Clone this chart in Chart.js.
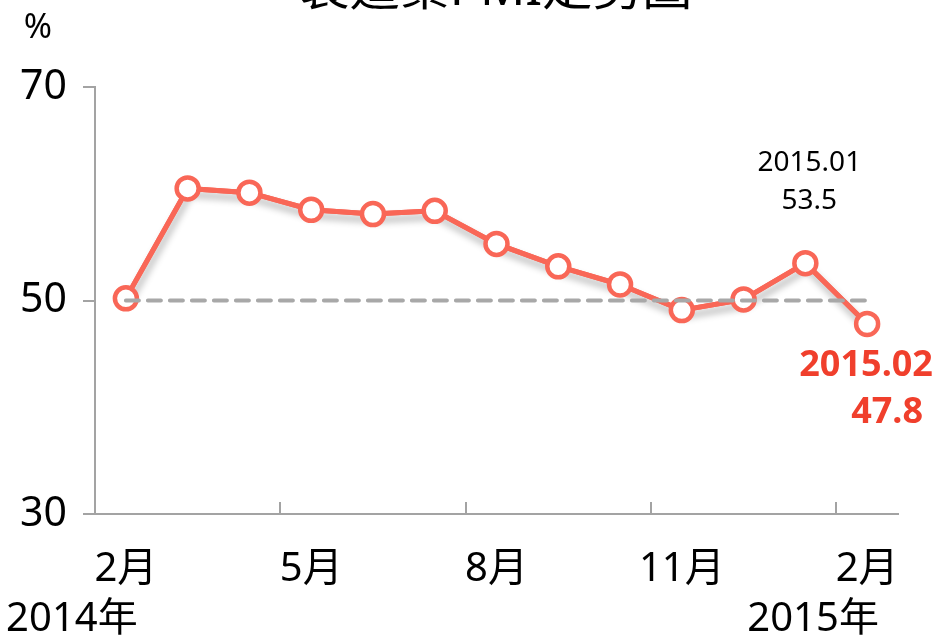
<!DOCTYPE html>
<html>
<head>
<meta charset="utf-8">
<script src="https://cdn.jsdelivr.net/npm/chart.js@4"></script>
<style>
    html, body { margin: 0; padding: 0; background: #ffffff; }
    #wrap { width: 935px; height: 638px; }
</style>
</head>
<body>
<div id="wrap"><canvas id="pmiChart" width="935" height="638"></canvas></div>
<script>
const categories = ['2014.02', '2014.03', '2014.04', '2014.05', '2014.06', '2014.07', '2014.08',
    '2014.09', '2014.10', '2014.11', '2014.12', '2015.01', '2015.02'];
const pmiValues = [50.2, 60.5, 60.1, 58.5, 58.1, 58.4, 55.3, 53.2, 51.5, 49.1, 50.1, 53.5, 47.8];
const baseline = [50, 50, 50, 50, 50, 50, 50, 50, 50, 50, 50, 50, 50];
const monthLabels = ['2月', '', '', '5月', '', '', '8月', '', '', '11月', '', '', '2月'];
const yearLabels = ['2014年', '', '', '', '', '', '', '', '', '', '', '', '2015年'];
const yTicks = [30, 50, 70];
const titleText = '製造業PMI走勢圖';

const FONT = "'Noto Sans', 'Noto Sans CJK TC', sans-serif";
const LINE_RED = '#F96757';
const AXIS_GRAY = '#A3A3A3';

Chart.defaults.font.family = FONT;
Chart.defaults.color = '#000000';

// 折線陰影 (只畫在線下, 不影響圓點)
const shadowPlugin = {
    id: 'lineShadow',
    beforeDatasetDraw(chart, args) {
        if (args.index !== 1) {
            return;
        }
        const ctx = chart.ctx;
        const pts = chart.getDatasetMeta(1).data;

        ctx.save();
        ctx.shadowColor = 'rgba(0, 0, 0, 0.3)';
        ctx.shadowBlur = 7;
        ctx.shadowOffsetX = 2;
        ctx.shadowOffsetY = 6;
        ctx.strokeStyle = LINE_RED;
        ctx.lineWidth = 5;
        ctx.lineJoin = 'round';
        ctx.beginPath();
        pts.forEach((p, i) => {
            if (i === 0) {
                ctx.moveTo(p.x, p.y);
            } else {
                ctx.lineTo(p.x, p.y);
            }
        });
        ctx.stroke();
        ctx.restore();
    }
};

// 標題、單位、年份、刻度線、標註
const decorPlugin = {
    id: 'decor',
    afterDraw(chart) {
        const ctx = chart.ctx;
        const x = chart.scales.x;
        const area = chart.chartArea;
        const step = x.getPixelForValue(1) - x.getPixelForValue(0);

        ctx.save();

        // 標題 (上半部被裁切)
        ctx.fillStyle = '#000000';
        ctx.font = '50px ' + FONT;
        ctx.textAlign = 'center';
        ctx.textBaseline = 'alphabetic';
        ctx.fillText(titleText, 496, 5);

        // 單位
        ctx.font = '34px ' + FONT;
        ctx.textBaseline = 'middle';
        ctx.fillText('%', 38, 28);

        // x 軸內側刻度
        ctx.strokeStyle = AXIS_GRAY;
        ctx.lineWidth = 2;
        monthLabels.forEach((m, i) => {
            if (!m) {
                return;
            }
            const px = Math.round(x.getPixelForValue(i) - step / 2);
            ctx.beginPath();
            ctx.moveTo(px, area.bottom);
            ctx.lineTo(px, area.bottom - 12);
            ctx.stroke();
        });

        // 年份
        ctx.font = '40px ' + FONT;
        ctx.textBaseline = 'middle';
        yearLabels.forEach((yl, i) => {
            if (!yl) {
                return;
            }
            ctx.fillText(yl, x.getPixelForValue(i) - 54, 620);
        });

        // 標註
        const meta = chart.getDatasetMeta(1);
        const p1 = meta.data[11];
        const p2 = meta.data[12];

        ctx.fillStyle = '#000000';
        ctx.font = '28px ' + FONT;
        ctx.fillText(categories[11], p1.x + 4, 163);
        ctx.fillText(pmiValues[11].toFixed(1), p1.x + 4, 201);

        ctx.fillStyle = '#F03F2C';
        ctx.font = 'bold 36px ' + FONT;
        ctx.fillText(categories[12], p2.x - 1, 366);
        ctx.fillText(pmiValues[12].toFixed(1), p2.x + 20, 413);

        ctx.restore();
    }
};

const ctx = document.getElementById('pmiChart').getContext('2d');

new Chart(ctx, {
    type: 'line',
    data: {
        labels: categories,
        datasets: [{
            label: '榮枯線',
            data: baseline,
            borderColor: '#A8A8A8',
            borderWidth: 4,
            borderDash: [13, 9],
            borderCapStyle: 'round',
            pointRadius: 0,
            fill: false
        }, {
            label: 'PMI',
            data: pmiValues,
            borderColor: LINE_RED,
            borderWidth: 5,
            tension: 0,
            pointRadius: 11,
            pointBorderWidth: 4.5,
            pointBackgroundColor: '#ffffff',
            pointBorderColor: LINE_RED,
            fill: false
        }]
    },
    options: {
        responsive: false,
        animation: false,
        layout: {
            padding: { top: 87, right: 37, left: 0, bottom: 0 }
        },
        plugins: {
            legend: { display: false },
            tooltip: { enabled: false },
            title: { display: false }
        },
        scales: {
            x: {
                offset: true,
                grid: {
                    display: false,
                    offset: true
                },
                border: {
                    display: true,
                    color: AXIS_GRAY,
                    width: 2
                },
                ticks: {
                    autoSkip: false,
                    maxRotation: 0,
                    minRotation: 0,
                    padding: 24,
                    font: { size: 40 },
                    color: '#000000',
                    callback: (val, i) => monthLabels[i]
                },
                afterFit(scale) {
                    scale.height = 124;
                }
            },
            y: {
                min: 30,
                max: 70,
                afterBuildTicks(scale) {
                    scale.ticks = yTicks.map(v => ({ value: v }));
                },
                grid: {
                    drawOnChartArea: false,
                    drawTicks: true,
                    tickLength: 12,
                    color: AXIS_GRAY,
                    lineWidth: 2
                },
                border: {
                    display: true,
                    color: AXIS_GRAY,
                    width: 2
                },
                ticks: {
                    padding: 16,
                    font: { size: 41 },
                    color: '#000000'
                },
                afterFit(scale) {
                    scale.width = 95;
                }
            }
        }
    },
    plugins: [shadowPlugin, decorPlugin]
});
</script>
</body>
</html>
